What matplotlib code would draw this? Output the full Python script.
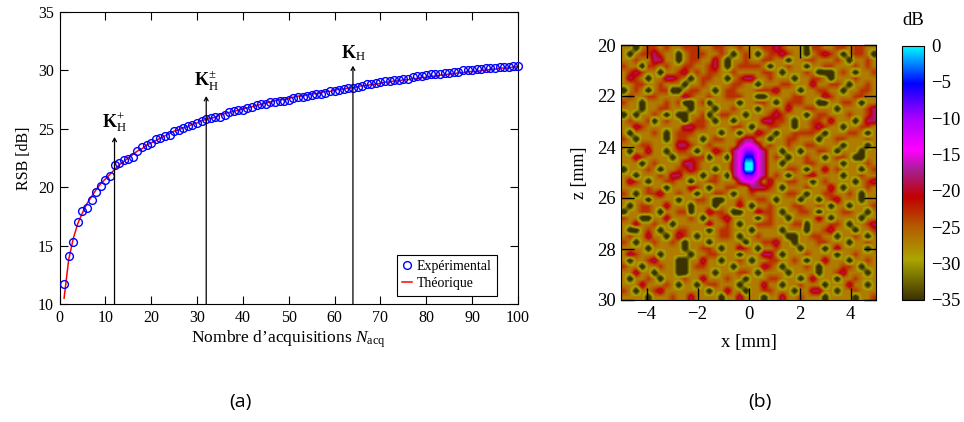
import numpy as np
import matplotlib
matplotlib.use('Agg')
import matplotlib.pyplot as plt
from matplotlib.colors import LinearSegmentedColormap

plt.rcParams['font.family'] = ['Liberation Serif', 'DejaVu Serif']
plt.rcParams['mathtext.fontset'] = 'custom'
plt.rcParams['mathtext.rm'] = 'Liberation Serif'
plt.rcParams['mathtext.it'] = 'Liberation Serif:italic'
plt.rcParams['mathtext.bf'] = 'Liberation Serif:bold'

# left panel
n_acq = list(range(1, 101))
rsb_exp = [11.7, 14.1, 15.3, 17.0, 18.0, 18.2, 18.9, 19.6, 20.1, 20.6,
           21.0, 21.9, 22.1, 22.3, 22.4, 22.6, 23.1, 23.4, 23.6, 23.8,
           24.1, 24.2, 24.4, 24.5, 24.8, 24.9, 25.1, 25.2, 25.3, 25.5,
           25.7, 25.8, 25.9, 26.0, 26.0, 26.2, 26.4, 26.5, 26.6, 26.6,
           26.8, 26.9, 27.0, 27.1, 27.1, 27.3, 27.3, 27.4, 27.4, 27.5,
           27.6, 27.7, 27.7, 27.8, 27.9, 28.0, 28.0, 28.1, 28.2, 28.2,
           28.3, 28.4, 28.5, 28.5, 28.6, 28.7, 28.8, 28.8, 28.9, 29.0,
           29.1, 29.1, 29.2, 29.2, 29.3, 29.3, 29.4, 29.5, 29.5, 29.6,
           29.7, 29.7, 29.7, 29.8, 29.8, 29.9, 29.9, 30.0, 30.0, 30.0,
           30.1, 30.1, 30.2, 30.2, 30.2, 30.3, 30.3, 30.3, 30.4, 30.4]
rsb_th = [10.5, 13.8, 15.6, 16.9, 17.8, 18.6, 19.2, 19.8, 20.3, 20.7,
          21.1, 21.5, 21.9, 22.2, 22.5, 22.8, 23.1, 23.3, 23.6, 23.8,
          24.0, 24.2, 24.4, 24.6, 24.8, 24.9, 25.1, 25.2, 25.4, 25.5,
          25.7, 25.8, 25.9, 26.0, 26.2, 26.3, 26.4, 26.5, 26.6, 26.7,
          26.8, 26.9, 27.0, 27.1, 27.2, 27.3, 27.4, 27.5, 27.5, 27.6,
          27.7, 27.8, 27.8, 27.9, 28.0, 28.0, 28.1, 28.2, 28.2, 28.3,
          28.4, 28.4, 28.5, 28.5, 28.6, 28.7, 28.7, 28.8, 28.8, 28.9,
          29.0, 29.0, 29.1, 29.1, 29.2, 29.2, 29.3, 29.3, 29.4, 29.4,
          29.5, 29.5, 29.6, 29.6, 29.7, 29.7, 29.8, 29.8, 29.9, 29.9,
          29.9, 30.0, 30.0, 30.1, 30.1, 30.2, 30.2, 30.2, 30.3, 30.3]
arrow_x = [12, 32, 64]
arrow_top = [24.3, 27.8, 30.4]
arrow_labels = [r'$\mathbf{K}_{\mathrm{H}}^{+}$', r'$\mathbf{K}_{\mathrm{H}}^{\pm}$', r'$\mathbf{K}_{\mathrm{H}}$']

# right panel, one letter per cell, read by eye from the crops
# o dark olive, y yellow, r orange, e red, m magenta, p violet, b blue, c cyan
levels = {'o': -38.5, 'y': -27, 'r': -23, 'e': -18, 'm': -14, 'p': -9, 'b': -5, 'c': 0}
grid_rows = [
    "yyoyrryryyrrryyrryyryyyrreryyyorryyrryrryy",
    "yoyrreryyoyrrryyryoyryoyrreryyoyreryoyrryo",
    "yyryyeeyyoyrryyeyoyyryyrryyoyyrryyyryoyyry",
    "ryyorryryyrryyreyoyrrrryoyyryyoyyrryyyryry",
    "yreryyoyyreyryrryyryyyyrryoyyyryoooyryoyyr",
    "yeryoyyeeryoyrryyoyreeyyryyyoyyrryoyyyryyy",
    "yyrryyryyyoyyryyyyrryyoyyyrryyyeyyrryoyyry",
    "oyryoyrrooyrryyoyrryyyrrreyyyoyyrryyoyyrry",
    "yryyrryyyyeryyryyrrryyooyyyyrryyyeryyyrryy",
    "ryyoyyyryrooyroyyyyoyyrryoyrrryyooyyrryoyy",
    "yyyoyyrryyyoyyyoyyryyyoyyryeyyrryyyoyyyyre",
    "oyoyyryoyooyyroyrryyoyyyreryyyoyrryyyryyre",
    "yryyroyryyoyrryoyyoyyyyeerryoyyrryeyyyoyee",
    "yyeryyyyyyeerryyyyrryoyyrryyoyyreryyoyyrry",
    "yoyyyryoyrrryyyyoyyoyyeryoyyrrrryoyyyrryoy",
    "ryoyyyyoyrryyoyrryyreeyyoyyrryyyoyyrryyyry",
    "yyyrryyyyeeryyryyyyemmeyryyryyrryyyyoyyyoy",
    "yoyyeyyoyrryoyyeryemppmeyyoyyoyyrryoyyyoyy",
    "yyeryyyyoyyrrroyyoembbmeyryoyyryyoyrryooyy",
    "yyyoyryyyyeeryyyyyemccmeyyoyyyrryyyyoyyyry",
    "oyyyryoyyrreryyoyyemccmeyyyrryoyyeyryyyoyr",
    "yyoyyyryeeyyyoyryoemppmeyryoyyreyyyyoyyryy",
    "yeryoyyrryyoyyrryyyemmeyeyyrryyoyryyyyoyre",
    "yyyyryyoyyyeryoyyrryyeeeryoyyyryyyeyoyyyry",
    "ryoyrreyyryyoyyrryoyyryyyyyrryoyyrryyryoyy",
    "yyyyoyyyyoyyrryooyyryyrryoyyyoyyoyreyyyoyy",
    "yoyrryyeyyyoyyyoyyyeyoyyryyyrryyryoyyoyyyr",
    "oyyrryoyyrroyyerryooyyerryoyyrryoyyyrryyoy",
    "ryyooyyeyyyryoyyreyyyyoyryyoyyyyeyoyyyyoyy",
    "yyeyyryyoyyyyyeyyryoyyrrryyyrroyyyrryoyyre",
    "yooyryoyyrryyyoyrryyyoyyyyoyyyoyyreyyyoyyr",
    "yryyeyyoyeryoyyyrryoyyryyyyooyyrryyoyyryoy",
    "ryoyyryyryoyyyoyyyyyoyyrreyyoyyyrryyyoyyry",
    "yyyyoyyyyyoyyrryoyyeryoyyryyyoyyyoyeyyyyoy",
    "yeryyyoyyyyoyyrryyyoyyyeeyoyyyryyyyoyyryyy",
    "yoyyreyyyooyyeyyoyyryoyyrryyryoyyeyyyoyyry",
    "ryyoyyryyooyrryyyyoyyyyeryoyyyryoyyyrryoyy",
    "yyeyyoyyyooyyyyoyyyrryoyyyyoyyyyoyyreyyyoy",
    "yoyyryoyyyryyeyyyryyoyyyrryyyoyeyyyoyyryyy",
    "yyyeyyyryoyyoyrryyyoyyyeyyoyyryyyoyyyeyyoy",
    "ryoyyreyyyyyyyoyyeyyoyyrryyyoyyeeyyoyyryyy",
    "yyyyoyyyryyeyyyyoyyeyyyoyyeyyryyyoyyyyoyyr",
]

# colorbar stops
cbar_pos = [0.0, 0.157, 0.286, 0.406, 0.514, 0.589, 0.714, 0.851, 1.0]
cbar_cols = ['#3c3200', '#aaa500', '#b45a00', '#c00000', '#a81e96', '#ff00ff', '#aa00ff', '#0000ff', '#00ffff']
cbar_ticks = [0, -5, -10, -15, -20, -25, -30, -35]
x_ticks_r = [-4, -2, 0, 2, 4]
z_ticks = [20, 22, 24, 26, 28, 30]

W, H = 964, 422
fig = plt.figure(figsize=(W / 100, H / 100), dpi=100)

def box(l, t, r, b):
    return [l / W, 1 - b / H, (r - l) / W, (b - t) / H]

# (a)
ax = fig.add_axes(box(59.5, 12, 518, 304))
ax.plot(n_acq, rsb_th, color='red', lw=1.1, label='Théorique', zorder=2)
ax.plot(n_acq, rsb_exp, 'o', mfc='none', mec='blue', mew=1.0, ms=5.6, label='Expérimental', zorder=3, clip_on=False)
for x, top, lab in zip(arrow_x, arrow_top, arrow_labels):
    ax.annotate('', xy=(x, top), xytext=(x, 10),
                arrowprops=dict(arrowstyle='->,head_length=0.25,head_width=0.14', color='black', lw=0.9, shrinkA=0, shrinkB=0))
    ax.text(x, top + 0.25, lab, ha='center', va='bottom', fontsize=13)
ax.set_xlim(0, 100)
ax.set_ylim(10, 35)
ax.set_xticks(range(0, 101, 10))
ax.set_yticks(range(10, 36, 5))
ax.tick_params(direction='in', top=True, right=True, length=5.5, width=0.8, labelsize=11.5, pad=4)
ax.set_xlabel(r"Nombre d’acquisitions $N_{\mathrm{acq}}$", fontsize=12.6, labelpad=2)
ax.set_ylabel('RSB [dB]', fontsize=11.5, labelpad=4)
handles, labels = ax.get_legend_handles_labels()
leg = ax.legend(handles[::-1], labels[::-1], loc='lower right', bbox_to_anchor=(0.955, 0.028), fontsize=10,
                fancybox=False, framealpha=1, edgecolor='black', handlelength=0.7,
                handletextpad=0.35, borderpad=0.4, labelspacing=0.3, borderaxespad=0)
leg.get_frame().set_linewidth(0.8)

# (b)
data = np.array([[levels[c] for c in row] for row in grid_rows])
cmap = LinearSegmentedColormap.from_list('rsb', list(zip(cbar_pos, cbar_cols)))
ax2 = fig.add_axes(box(621, 45, 876, 300))
im = ax2.imshow(data, extent=[-5, 5, 30, 20], aspect='auto', cmap=cmap, vmin=-35, vmax=0, interpolation='bilinear')
ax2.set_xticks(x_ticks_r)
ax2.set_yticks(z_ticks)
ax2.tick_params(direction='in', top=True, right=True, length=9, width=1.0, labelsize=13.5, pad=4)
ax2.set_xlabel('x [mm]', fontsize=13.5, labelpad=8)
ax2.set_ylabel('z [mm]', fontsize=13, labelpad=6)

cax = fig.add_axes(box(902, 45.5, 924, 300))
cb = fig.colorbar(im, cax=cax, ticks=cbar_ticks)
cb.ax.tick_params(length=0, labelsize=13.5, pad=5)
cax.set_title('dB', fontsize=13.5, pad=15)

fig.text(240 / W, 1 - 402 / H, '(a)', fontfamily='Open Sans', fontsize=14, ha='center', va='center')
fig.text(760 / W, 1 - 402 / H, '(b)', fontfamily='Open Sans', fontsize=14, ha='center', va='center')

fig.savefig('out.png', dpi=100)
